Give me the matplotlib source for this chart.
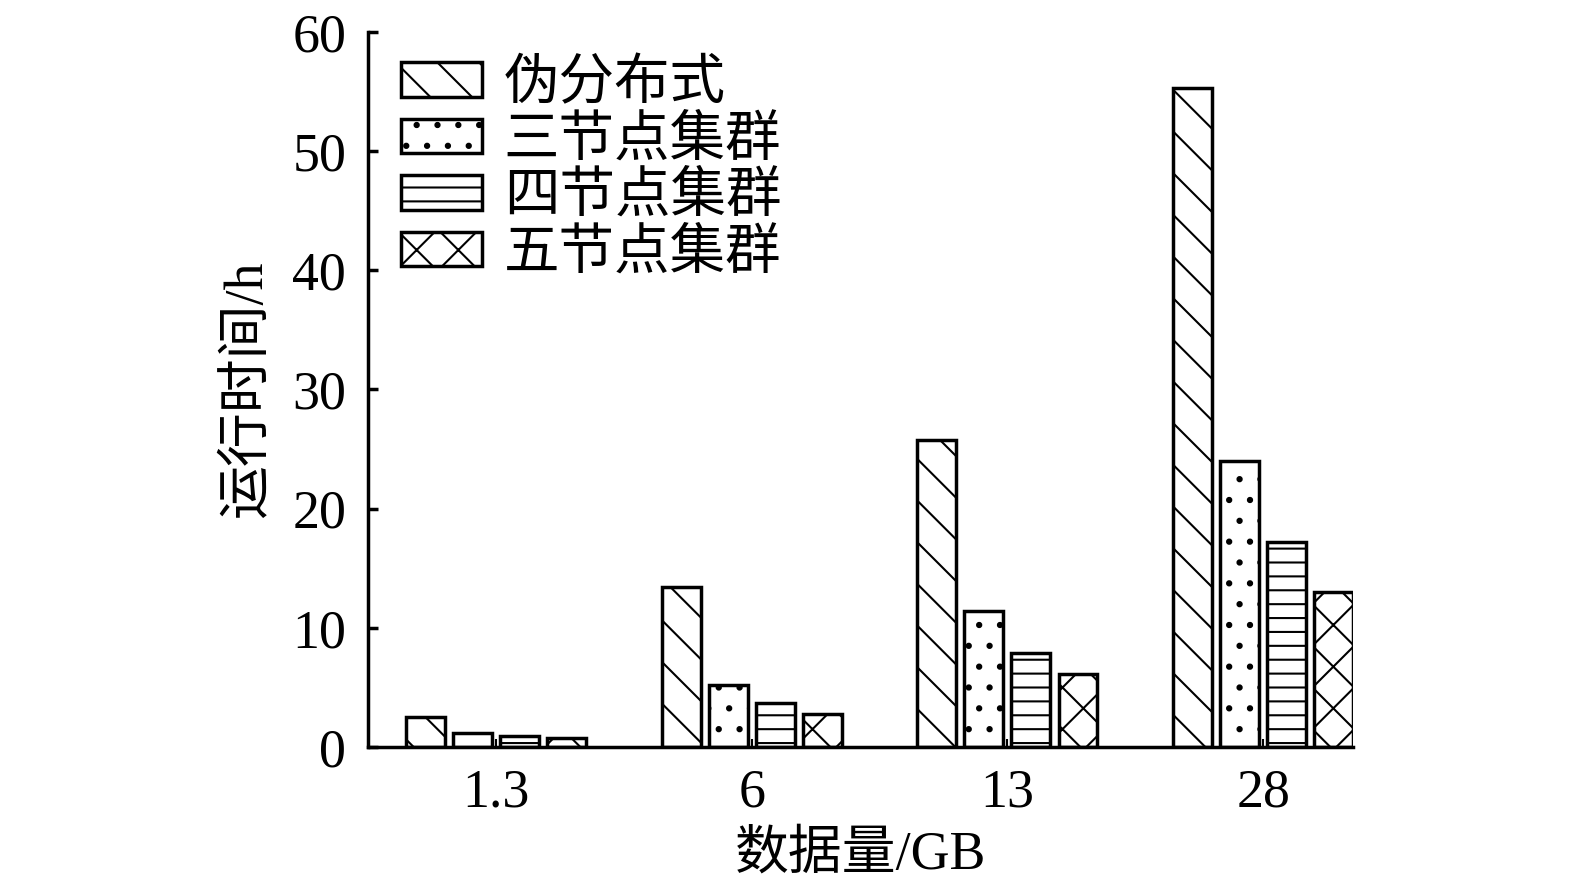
import matplotlib
matplotlib.use("Agg")
import matplotlib.pyplot as plt
import numpy as np

# 数据量 / GB
sizes = ["1.3", "6", "13", "28"]
series = ["伪分布式", "三节点集群", "四节点集群", "五节点集群"]
pseudo = [2.5, 13.4, 25.8, 55.3]
three_node = [1.2, 5.2, 11.4, 24.0]
four_node = [0.9, 3.7, 7.9, 17.2]
five_node = [0.75, 2.8, 6.1, 13.0]
hatches = ["\\\\", "..", "---", "xx"]

plt.rcParams["font.family"] = ["Liberation Serif", "Noto Sans CJK SC"]
plt.rcParams["hatch.linewidth"] = 0.6
plt.rcParams["hatch.color"] = "black"

_FS = 15.5
_LW = 1.0

fig = plt.figure(figsize=(6.3, 3.552), dpi=250)
ax = fig.add_axes([0.2337, 0.1588, 0.6254, 0.8052])

x = np.arange(len(sizes))
width = 0.152
step = 0.184
values = [pseudo, three_node, four_node, five_node]
for i, (name, vals, h) in enumerate(zip(series, values, hatches)):
    ax.bar(x + (i - 1.5) * step, vals, width, color="white", edgecolor="black",
           linewidth=_LW, hatch=h, label=name)

ax.set_xlim(-0.5, 3.352)
ax.set_ylim(0, 60)
ax.set_yticks(np.arange(0, 61, 10))
ax.set_xticks(x)
ax.set_xticklabels(sizes)

for side in ["top", "right"]:
    ax.spines[side].set_visible(False)
for side in ["left", "bottom"]:
    ax.spines[side].set_linewidth(_LW)

ax.tick_params(axis="y", direction="in", length=2.9, width=_LW, pad=6.3, labelsize=_FS)
ax.tick_params(axis="x", direction="in", length=2.2, width=0.6, pad=6.0, labelsize=_FS)

ax.set_xlabel("数据量/GB", fontsize=_FS, labelpad=3.5)
ax.set_ylabel("运行时间/h", fontsize=_FS, labelpad=5.5)

ax.legend(loc="upper left", bbox_to_anchor=(0.0335, 0.962), frameon=False,
          fontsize=16, handlelength=1.45, handleheight=0.58, handletextpad=0.4,
          labelspacing=0.08, borderpad=0, borderaxespad=0)

fig.savefig("out.png", dpi=250)
